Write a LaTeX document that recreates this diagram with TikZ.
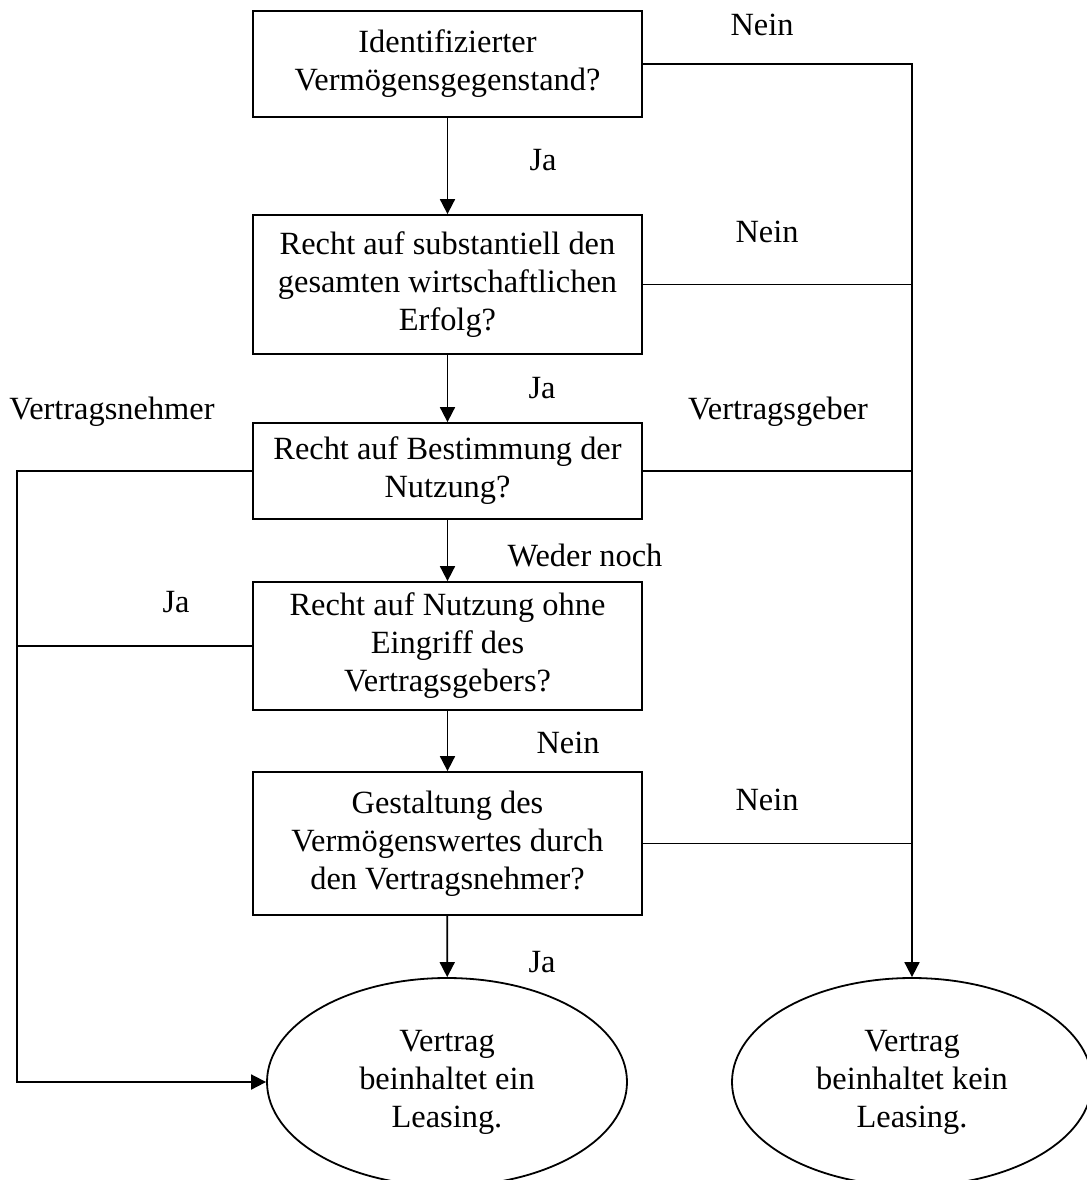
\documentclass[tikz,border=0pt]{standalone}
\usepackage{fontspec}
\setmainfont{Liberation Serif}
\usetikzlibrary{arrows.meta,positioning,shapes.geometric}

\tikzset{
  frage/.style={draw, line width=0.9pt, minimum width=194.5pt, inner sep=0pt, align=center},
  ergebnis/.style={ellipse, draw, line width=0.9pt, minimum width=180pt, minimum height=104pt, inner sep=0pt, align=center},
  marke/.style={inner sep=0pt},
  linie/.style={line width=0.9pt},
  pfeil/.style={line width=0.9pt, -{Triangle[length=7.5pt,width=7.5pt]}},
}

\begin{document}
\begin{tikzpicture}[x=0.5pt,y=-0.5pt, font=\fontsize{16.2}{19}\selectfont]
    \useasboundingbox (0,0) rectangle (1087,1180);
    % Fragen
    \node[frage, minimum height=53pt]   (ident)    at (447.5,64)    {Identifizierter\\Vermögensgegenstand?};
    \node[frage, minimum height=69.5pt] (erfolg)   at (447.5,284.5) {Recht auf substantiell den\\gesamten wirtschaftlichen\\Erfolg?};
    \node[frage, minimum height=48pt]   (bestimm)  at (447.5,471)   {Recht auf Bestimmung der\\Nutzung?};
    \node[frage, minimum height=64pt]   (nutzung)  at (447.5,646)   {Recht auf Nutzung ohne\\Eingriff des\\Vertragsgebers?};
    \node[frage, minimum height=71.5pt] (gestalt)  at (447.5,843.5) {Gestaltung des\\Vermögenswertes durch\\den Vertragsnehmer?};
    % Ergebnisse
    \node[ergebnis] (leasing) at (447,1082) {Vertrag\\beinhaltet ein\\Leasing.};
    \node[ergebnis] (kein)    at (912,1082) {Vertrag\\beinhaltet kein\\Leasing.};
    \coordinate (rechts) at (912,64);
    \coordinate (links)  at (17,471);
    % Verbindungen
    \draw[pfeil] (ident) -- (erfolg);
    \draw[pfeil] (erfolg) -- (bestimm);
    \draw[pfeil] (bestimm) -- (nutzung);
    \draw[pfeil] (nutzung) -- (gestalt);
    \draw[pfeil] (gestalt) -- (leasing);
    \draw[pfeil] (ident.east) -- (rechts) -- (kein.north);
    \draw[linie] (erfolg.east) -- (erfolg.east -| rechts);
    \draw[linie] (bestimm.east) -- (bestimm.east -| rechts);
    \draw[linie] (gestalt.east) -- (gestalt.east -| rechts);
    \draw[pfeil] (bestimm.west) -- (links) |- (leasing.west);
    \draw[linie] (nutzung.west) -- (nutzung.west -| links);
    % Beschriftungen
    \node[marke] (nein1) at (762,25)  {Nein};
    \node[marke] (ja1)   at (543,160) {Ja};
    \node[marke] (nein2) at (767,232) {Nein};
    \node[marke] (ja2)   at (542,388) {Ja};
    \node[marke] (vn)    at (112,412) {Vertragsnehmer};
    \node[marke] (vg)    at (778,412) {Vertragsgeber};
    \node[marke] (weder) at (585,555) {Weder noch};
    \node[marke] (ja3)   at (176,602) {Ja};
    \node[marke] (nein3) at (568,743) {Nein};
    \node[marke] (nein4) at (767,800) {Nein};
    \node[marke] (ja4)   at (542,962) {Ja};
\end{tikzpicture}
\end{document}
